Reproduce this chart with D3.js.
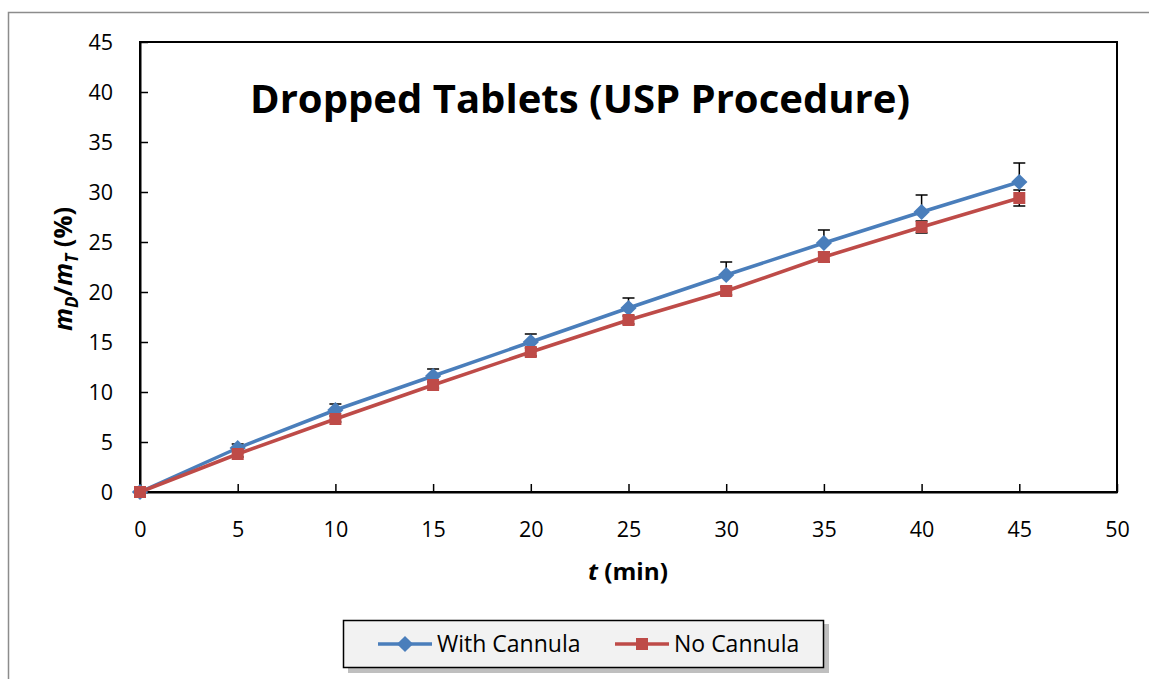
<!DOCTYPE html>
<html><head><meta charset="utf-8">
<script src="https://cdn.jsdelivr.net/npm/d3@7"></script>
<style>body{margin:0;background:#fff;overflow:hidden}svg{display:block}</style>
</head><body>
<svg id="c" width="1149" height="679"></svg>
<script>
const times = [0,5,10,15,20,25,30,35,40,45];
const withCannula = [0,4.4,8.2,11.6,15.0,18.4,21.7,24.9,28.0,31.0];
const withCannulaErr = [0,0.4,0.6,0.7,0.8,1.0,1.3,1.3,1.7,1.9];
const noCannula = [0,3.8,7.3,10.7,14.0,17.2,20.1,23.5,26.5,29.4];
const noCannulaErr = [0,0.3,0.3,0.3,0.4,0.4,0.4,0.5,0.6,0.8];
const xTicks = [0,5,10,15,20,25,30,35,40,45,50];
const yTicks = [0,5,10,15,20,25,30,35,40,45];
const seriesNames = ["With Cannula","No Cannula"];
const colors = ["#4a7ebb","#be4b48"];

const svg = d3.select("#c");
const font = "'Open Sans', sans-serif";
// outer frame
svg.append("rect").attr("x",8.5).attr("y",12.5).attr("width",1160).attr("height",700)
  .attr("fill","none").attr("stroke","#8c8c8c").attr("stroke-width",1.5);

const x = d3.scaleLinear().domain([0,50]).range([140,1117]);
const y = d3.scaleLinear().domain([0,45]).range([492,42]);

// plot box
svg.append("rect").attr("x",140).attr("y",42).attr("width",977).attr("height",450)
  .attr("fill","none").attr("stroke","#000").attr("stroke-width",2);

const xa = svg.append("g").attr("transform","translate(0,492)")
  .call(d3.axisBottom(x).tickValues(xTicks).tickSizeInner(-8).tickSizeOuter(0));
const ya = svg.append("g").attr("transform","translate(140,0)")
  .call(d3.axisLeft(y).tickValues(yTicks).tickSizeInner(-8).tickSizeOuter(0));
[xa,ya].forEach(a=>{
  a.select(".domain").attr("stroke","#000").attr("stroke-width",2);
  a.selectAll(".tick line").attr("stroke","#000").attr("stroke-width",1.5);
  a.selectAll(".tick text").attr("font-family",font).attr("font-size",21.5).attr("fill","#000");
});
xa.selectAll(".tick text").attr("y",45).attr("dy",0);
ya.selectAll(".tick text").attr("x",-27).attr("dy","0.36em");

// title
svg.append("text").attr("x",580).attr("y",113).attr("text-anchor","middle")
  .attr("font-family",font).attr("font-weight","bold").attr("font-size",40)
  .attr("textLength",660).attr("lengthAdjust","spacingAndGlyphs")
  .text("Dropped Tablets (USP Procedure)");

// x title
const xt = svg.append("text").attr("x",628).attr("y",580).attr("text-anchor","middle")
  .attr("font-family",font).attr("font-weight","bold").attr("font-size",23)
  .attr("textLength",80).attr("lengthAdjust","spacingAndGlyphs");
xt.append("tspan").attr("font-style","italic").text("t");
xt.append("tspan").text(" (min)");

// y title
const yt = svg.append("text").attr("transform","translate(72,269) rotate(-90)").attr("text-anchor","middle")
  .attr("font-family",font).attr("font-weight","bold").attr("font-size",25.5);
yt.append("tspan").attr("font-style","italic").text("m");
yt.append("tspan").attr("font-style","italic").attr("font-size",17).attr("dy",6).text("D");
yt.append("tspan").attr("dy",-6).text("/");
yt.append("tspan").attr("font-style","italic").text("m");
yt.append("tspan").attr("font-style","italic").attr("font-size",17).attr("dy",6).text("T");
yt.append("tspan").attr("dy",-6).text(" (%)");

const series = [
  {vals:withCannula, err:withCannulaErr, up:true, down:false, color:colors[0], sym:"diamond"},
  {vals:noCannula, err:noCannulaErr, up:true, down:true, color:colors[1], sym:"square"}
];
const line = d3.line().x((d,i)=>x(times[i])).y(d=>y(d));
const marker = (g, s) => {
  g.attr("d", d3.symbol().type(d3.symbolSquare).size(s.sym === "diamond" ? 132 : 144)());
  return g.attr("fill", s.color);
};

// error bars
series.forEach(s=>{
  const g = svg.append("g");
  s.vals.forEach((v,i)=>{
    if(!s.err[i]) return;
    const cx = x(times[i]);
    const lo = s.down ? v - s.err[i] : v, hi = s.up ? v + s.err[i] : v;
    g.append("line").attr("x1",cx).attr("x2",cx).attr("y1",y(lo)).attr("y2",y(hi)).attr("stroke","#000").attr("stroke-width",1.5);
    if(s.up) g.append("line").attr("x1",cx-6).attr("x2",cx+6).attr("y1",y(hi)).attr("y2",y(hi)).attr("stroke","#000").attr("stroke-width",1.5);
    if(s.down) g.append("line").attr("x1",cx-6).attr("x2",cx+6).attr("y1",y(lo)).attr("y2",y(lo)).attr("stroke","#000").attr("stroke-width",1.5);
  });
});

series.forEach(s=>{
  svg.append("path").datum(s.vals).attr("d",line).attr("fill","none").attr("stroke",s.color).attr("stroke-width",3.5);
  const rot = s.sym==="diamond" ? " rotate(45)" : "";
  svg.append("g").selectAll("path").data(s.vals).join("path")
    .call(p=>marker(p,s))
    .attr("transform",(d,i)=>`translate(${x(times[i])},${y(d)})${rot}`);
});

// legend
const lg = svg.append("g");
lg.append("rect").attr("x",348).attr("y",624).attr("width",481).attr("height",49).attr("fill","#8a8a8a").attr("opacity",0.55);
lg.append("rect").attr("x",343.5).attr("y",620.5).attr("width",480).attr("height",47).attr("fill","#f2f2f2").attr("stroke","#000").attr("stroke-width",1.5);
const items = [{x:378, label:seriesNames[0], s:series[0]},{x:615,label:seriesNames[1],s:series[1]}];
items.forEach(it=>{
  lg.append("line").attr("x1",it.x).attr("x2",it.x+54).attr("y1",644).attr("y2",644).attr("stroke",it.s.color).attr("stroke-width",3.5);
  const rot = it.s.sym==="diamond" ? " rotate(45)" : "";
  lg.append("path").call(p=>marker(p,it.s)).attr("transform",`translate(${it.x+27},644)${rot}`);
  lg.append("text").attr("x",it.x+59).attr("y",652).attr("font-family",font).attr("font-size",23).text(it.label);
});
</script>
</body></html>
